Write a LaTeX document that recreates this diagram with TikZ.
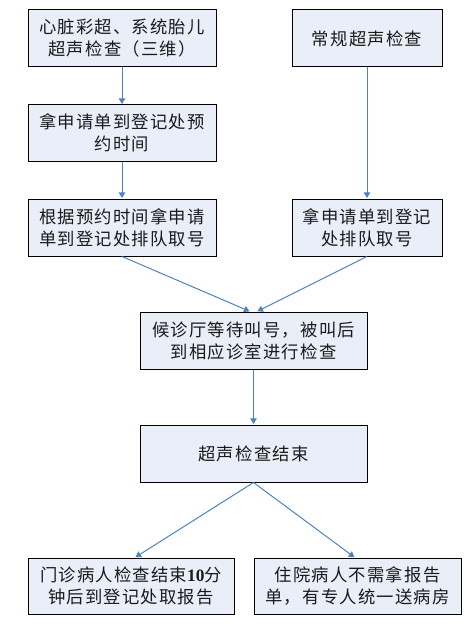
\documentclass[tikz,border=0pt]{standalone}
\usepackage{fontspec}
\setmainfont[LetterSpace=7]{Noto Sans CJK SC}
\newfontfamily\fcdigits{Liberation Serif}
\usepackage{xcolor}
\usetikzlibrary{arrows.meta,positioning}
\definecolor{fcFill}{HTML}{E9EEF8}
\definecolor{fcInk}{HTML}{1A1A1A}
\definecolor{fcArrow}{HTML}{4F81BD}
\newcommand{\pxu}{0.75pt}
\tikzset{
  fc diagram/.style={font=\fontsize{13}{16.5}\selectfont, text=fcInk,
    x=0.75pt, y=-0.75pt},
  fc box/.style={draw=black, fill=fcFill, line width=0.75pt,
    align=center, inner sep=2pt, minimum height=57*\pxu},
  fc arrow/.style={-{Triangle[length=4.2pt,width=4.8pt]}, draw=fcArrow,
    line width=0.75pt, shorten >=0.4pt}
}
\begin{document}
\begin{tikzpicture}[fc diagram]
\useasboundingbox (0,0) rectangle (470,631);
% two entry paths
\node[fc box, minimum width=188*\pxu] (heart) at (122,38.5) {心脏彩超、系统胎儿\\超声检查（三维）};
\node[fc box, minimum width=150*\pxu] (routine) at (367,38.5) {常规超声检查};
\node[fc box, minimum width=188*\pxu, minimum height=56*\pxu] (book) at (122,133) {拿申请单到登记处预\\约时间};
\node[fc box, minimum width=188*\pxu] (queueA) at (122,227.5) {根据预约时间拿申请\\单到登记处排队取号};
\node[fc box, minimum width=150*\pxu] (queueB) at (367,227.5) {拿申请单到登记\\处排队取号};
% common part
\node[fc box, minimum width=227*\pxu] (wait) at (253.5,340.5) {候诊厅等待叫号，被叫后\\到相应诊室进行检查};
\node[fc box, minimum width=227*\pxu] (done) at (253.5,453.5) {超声检查结束};
\node[fc box, minimum width=206*\pxu, minimum height=56*\pxu] (outpat) at (131,586) {门诊病人检查结束{\fcdigits\bfseries 10}分\\钟后到登记处取报告};
\node[fc box, minimum width=207*\pxu, minimum height=56*\pxu] (inpat) at (357.5,586) {住院病人不需拿报告\\单，有专人统一送病房};

\draw[fc arrow] (heart) -- (book);
\draw[fc arrow] (book) -- (queueA);
\draw[fc arrow] (routine) -- (queueB);
\draw[fc arrow] (queueA.south) -- ([xshift=-2.6pt]wait.north);
\draw[fc arrow] (queueB.south) -- ([xshift=2.6pt]wait.north);
\draw[fc arrow] (wait) -- (done);
\draw[fc arrow] (done.south) -- ([xshift=3pt]outpat.north);
\draw[fc arrow] (done.south) -- ([xshift=-2pt]inpat.north);
\end{tikzpicture}
\end{document}
